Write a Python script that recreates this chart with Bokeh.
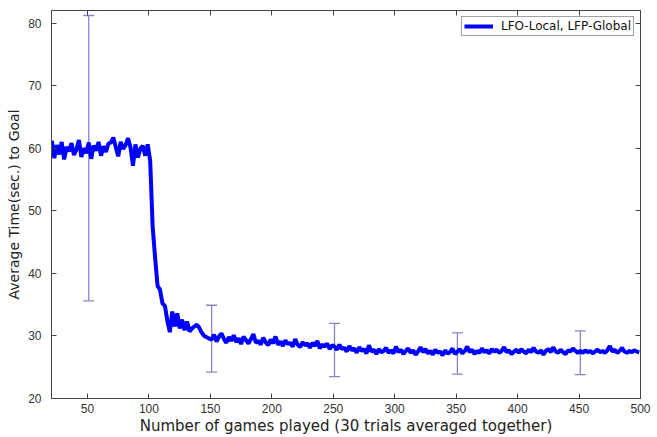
from bokeh.plotting import figure
from bokeh.models import (Range1d, FixedTicker, LinearAxis, Whisker, ColumnDataSource,
                          Legend, LegendItem, TeeHead, CustomJSTickFormatter)
from bokeh.embed import file_html
from bokeh.resources import INLINE

# ---------------- data ----------------
games = list(range(21, 500, 2))
avg_time = [
    # 21 .. 99
    61.2, 58.4, 60.5, 59.0, 61.0, 58.2, 60.2, 59.5, 60.8, 58.9,
    59.8, 61.3, 58.6, 60.0, 59.2, 60.9, 58.3, 60.4, 59.6, 61.0,
    58.8, 60.3, 59.4, 60.7, 60.9, 61.7, 60.2, 58.7, 61.0, 59.9,
    60.5, 61.6, 60.1, 57.2, 60.6, 58.5, 59.9, 60.4, 58.8, 60.6,
    # 101 .. 149
    58.0, 47.5, 42.5, 38.0, 37.4, 35.2, 34.8, 32.4, 30.6, 33.9,
    31.5, 33.6, 31.2, 32.6, 30.9, 32.3, 30.7, 31.2, 31.5, 31.8,
    31.3, 30.5, 30.0, 29.8, 29.6,
    # 151 .. 249
    29.4, 30.2, 29.1, 29.9, 30.4, 29.5, 28.9, 29.8, 29.2, 30.1,
    29.0, 29.6, 28.7, 29.9, 29.3, 28.8, 29.5, 30.3, 28.9, 29.2,
    28.6, 29.7, 29.0, 28.5, 29.4, 28.8, 29.9, 28.6, 29.1, 28.4,
    29.3, 28.7, 28.9, 28.3, 29.5, 28.6, 28.2, 29.0, 28.5, 28.8,
    28.1, 28.9, 28.4, 29.2, 28.0, 28.6, 28.3, 28.8, 27.9, 28.5,
    # 251 .. 299
    28.3, 27.8, 28.6, 27.9, 28.1, 27.5, 28.4, 27.7, 28.0, 27.3,
    28.2, 27.6, 27.9, 27.2, 28.5, 27.5, 27.8, 27.1, 27.9, 27.4,
    27.6, 28.1, 27.3, 27.7, 27.2,
    # 301 .. 349
    28.3, 27.4, 27.8, 27.1, 27.6, 28.0, 27.3, 27.7, 27.0, 27.5,
    28.2, 27.4, 27.9, 27.2, 27.6, 27.0, 27.8, 27.3, 27.5, 26.9,
    27.7, 27.2, 27.4, 28.0, 27.1,
    # 351 .. 399
    27.5, 27.9, 27.2, 27.6, 28.3, 27.4, 27.8, 27.1, 27.6, 27.3,
    28.0, 27.4, 27.7, 27.2, 27.9, 27.5, 27.8, 27.3, 27.6, 28.2,
    27.4, 27.7, 27.1, 27.5, 27.8,
    # 401 .. 449
    27.3, 27.9, 27.5, 27.2, 27.8, 27.4, 28.1, 27.5, 27.3, 27.7,
    27.0, 27.6, 27.9, 27.4, 28.2, 27.5, 27.3, 27.8, 27.4, 27.1,
    27.7, 27.5, 28.0, 27.6, 27.3,
    # 451 .. 499
    27.6, 27.3, 27.7, 27.4, 27.6, 27.2, 27.5, 27.8, 27.4, 27.6,
    27.3, 27.7, 28.4, 27.5, 27.8, 27.3, 27.6, 28.1, 27.5, 27.3,
    27.6, 27.4, 27.7, 27.5, 27.4,
]
err_games = [51, 151, 251, 351, 451]
err_upper = [81.2, 34.9, 32.0, 30.5, 30.8]
err_lower = [35.6, 24.2, 23.5, 23.9, 23.8]
x_ticks = [50, 100, 150, 200, 250, 300, 350, 400, 450, 500]
y_ticks = [20, 30, 40, 50, 60, 70, 80]
series_label = "LFO-Local, LFP-Global"
x_title = "Number of games played (30 trials averaged together)"
y_title = "Average Time(sec.) to Goal"

# ---------------- figure ----------------
p = figure(width=657, height=437, output_backend="svg", toolbar_location=None,
           x_range=Range1d(20.7, 500), y_range=Range1d(20, 82),
           min_border_left=51, min_border_right=17, min_border_top=10, min_border_bottom=38,
           x_axis_location=None, y_axis_location=None)
p.grid.visible = False
p.outline_line_color = "#444444"
p.background_fill_color = "white"
p.border_fill_color = "white"

FONT = "Liberation Sans"
LFONT = "DejaVu Sans"

def style(ax, labels=True):
    ax.major_tick_in = 5
    ax.major_tick_out = 0
    ax.minor_tick_in = 0
    ax.minor_tick_out = 0
    ax.axis_line_color = "#444444"
    ax.major_tick_line_color = "#444444"
    ax.major_label_text_font = FONT
    ax.major_label_text_color = "#333333"
    ax.major_label_text_font_size = "12px"
    if not labels:
        ax.formatter = CustomJSTickFormatter(code="return '';")
        ax.major_label_standoff = 0

xb = LinearAxis(ticker=FixedTicker(ticks=x_ticks), axis_label=x_title)
style(xb)
xb.major_label_standoff = 5
xb.axis_label_text_font = LFONT
xb.axis_label_text_font_size = "15px"
xb.axis_label_text_font_style = "normal"
xb.axis_label_text_color = "#222222"
xb.axis_label_standoff = 1
p.add_layout(xb, "below")

yl = LinearAxis(ticker=FixedTicker(ticks=y_ticks), axis_label=y_title)
style(yl)
yl.major_label_standoff = 10
yl.axis_label_text_font = LFONT
yl.axis_label_text_font_size = "14px"
yl.axis_label_text_font_style = "normal"
yl.axis_label_text_color = "#222222"
yl.axis_label_standoff = 3
p.add_layout(yl, "left")

xt = LinearAxis(ticker=FixedTicker(ticks=x_ticks))
style(xt, labels=False)
p.add_layout(xt, "above")

yr = LinearAxis(ticker=FixedTicker(ticks=y_ticks))
style(yr, labels=False)
p.add_layout(yr, "right")

# error bars
err_src = ColumnDataSource(dict(x=err_games, upper=err_upper, lower=err_lower))
wcol = "#8585c8"
w = Whisker(source=err_src, base="x", upper="upper", lower="lower", dimension="height",
            line_color=wcol, line_width=1.3,
            upper_head=TeeHead(size=11, line_color=wcol, line_width=1.3),
            lower_head=TeeHead(size=11, line_color=wcol, line_width=1.3))
p.add_layout(w)

src = ColumnDataSource(dict(x=games, y=avg_time))
r = p.line("x", "y", source=src, line_color="#0000ff", line_width=4)

legend = Legend(items=[LegendItem(label=series_label, renderers=[r])],
                location="top_right", margin=6, padding=2, spacing=0,
                glyph_width=29, glyph_height=12, label_height=12,
                label_standoff=8, label_text_font=LFONT, label_text_font_size="12px",
                label_text_color="#111111",
                border_line_color="#444444", border_line_width=1,
                background_fill_alpha=1.0)
p.add_layout(legend)

open("out.html", "w").write(file_html(p, INLINE))
